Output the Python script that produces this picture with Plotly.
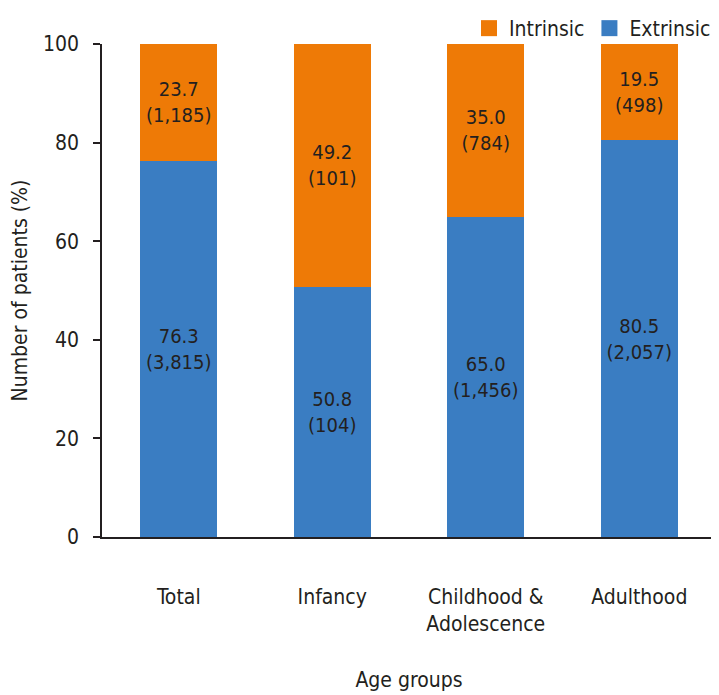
import plotly.graph_objects as go

categories = ["Total", "Infancy", "Childhood &<br>Adolescence", "Adulthood"]
extrinsic_pct = [76.3, 50.8, 65.0, 80.5]
extrinsic_n = ["3,815", "104", "1,456", "2,057"]
intrinsic_pct = [23.7, 49.2, 35.0, 19.5]
intrinsic_n = ["1,185", "101", "784", "498"]
y_ticks = [0, 20, 40, 60, 80, 100]

FONT = "DejaVu Sans Condensed"
TXT = "#231F20"
BLUE = "#3A7DC2"
ORANGE = "#EE7A06"
BAR_FONT = dict(family=FONT, size=20, color=TXT)
AX_FONT = dict(family=FONT, size=21, color=TXT)

fig = go.Figure()
fig.add_trace(go.Bar(
    x=categories, y=extrinsic_pct, name="Extrinsic", marker_color=BLUE,
    marker_line_width=0, width=0.5, showlegend=False,
    text=[f"{p:.1f}<br>({n})" for p, n in zip(extrinsic_pct, extrinsic_n)],
    textposition="inside", insidetextanchor="middle", constraintext="none",
    textfont=BAR_FONT, textangle=0,
))
fig.add_trace(go.Bar(
    x=categories, y=intrinsic_pct, name="Intrinsic", marker_color=ORANGE,
    marker_line_width=0, width=0.5, showlegend=False,
    text=[f"{p:.1f}<br>({n})" for p, n in zip(intrinsic_pct, intrinsic_n)],
    textposition="inside", insidetextanchor="middle", constraintext="none",
    textfont=BAR_FONT, textangle=0,
))
# legend entries with larger square swatches
for name, col in [("Intrinsic", ORANGE), ("Extrinsic", BLUE)]:
    fig.add_trace(go.Scatter(
        x=[None], y=[None], mode="markers", name=name,
        marker=dict(symbol="square", size=17, color=col),
    ))

# page body has an 8px margin, so the figure is 8px smaller and shifted
fig.update_layout(
    barmode="stack",
    width=711, height=687,
    margin=dict(l=94, r=3, t=36, b=158, autoexpand=False),
    paper_bgcolor="white", plot_bgcolor="white",
    font=AX_FONT,
    showlegend=True,
    legend=dict(orientation="h", traceorder="normal", x=1.0, xanchor="right",
                y=1.0, yanchor="top", yref="container",
                font=AX_FONT, itemwidth=30, itemsizing="trace",
                bgcolor="rgba(0,0,0,0)"),
)
fig.update_xaxes(
    showline=True, linecolor=TXT, linewidth=1.5, ticks="", showgrid=False,
    range=[-0.5, 3.5], ticklabelstandoff=40,
    tickfont=AX_FONT,
    title=dict(text="Age groups", font=AX_FONT, standoff=37),
)
fig.update_yaxes(
    showline=True, linecolor=TXT, linewidth=1.5, ticks="outside", ticklen=7,
    tickcolor=TXT, tickwidth=1.5, showgrid=False, zeroline=False,
    range=[0, 100], tickvals=y_ticks, ticklabelstandoff=10,
    tickfont=AX_FONT,
    title=dict(text="Number of patients (%)", font=AX_FONT, standoff=22),
)

fig.write_html("out.html")
